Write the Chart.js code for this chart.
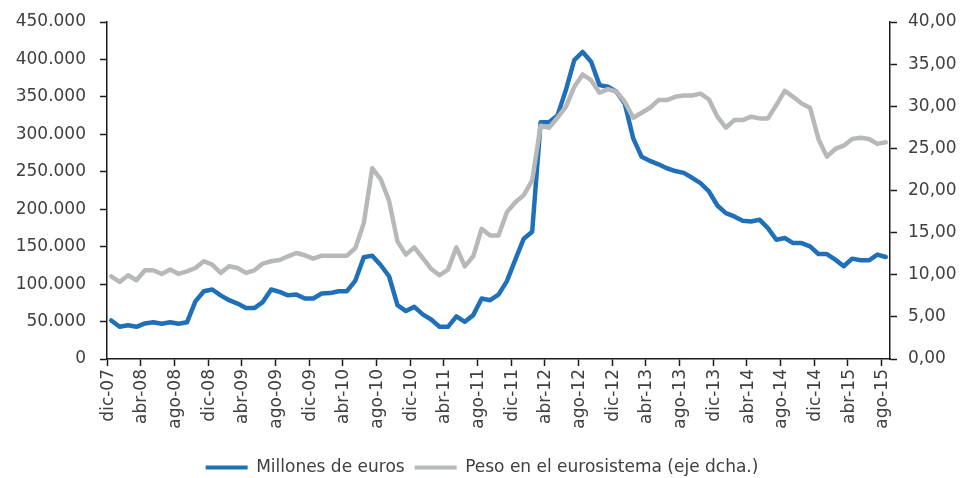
<!DOCTYPE html>
<html>
<head>
<meta charset="utf-8">
<script src="https://cdn.jsdelivr.net/npm/chart.js@4"></script>
<style>
  html, body { margin: 0; padding: 0; background: #ffffff; }
  #wrap { width: 964px; height: 478px; position: relative; }
</style>
</head>
<body>
<div id="wrap"><canvas id="c" width="964" height="478"></canvas></div>
<script>
const categories = [
  'dic-07',
  'ene-08','feb-08','mar-08','abr-08','may-08','jun-08','jul-08','ago-08','sep-08','oct-08','nov-08','dic-08',
  'ene-09','feb-09','mar-09','abr-09','may-09','jun-09','jul-09','ago-09','sep-09','oct-09','nov-09','dic-09',
  'ene-10','feb-10','mar-10','abr-10','may-10','jun-10','jul-10','ago-10','sep-10','oct-10','nov-10','dic-10',
  'ene-11','feb-11','mar-11','abr-11','may-11','jun-11','jul-11','ago-11','sep-11','oct-11','nov-11','dic-11',
  'ene-12','feb-12','mar-12','abr-12','may-12','jun-12','jul-12','ago-12','sep-12','oct-12','nov-12','dic-12',
  'ene-13','feb-13','mar-13','abr-13','may-13','jun-13','jul-13','ago-13','sep-13','oct-13','nov-13','dic-13',
  'ene-14','feb-14','mar-14','abr-14','may-14','jun-14','jul-14','ago-14','sep-14','oct-14','nov-14','dic-14',
  'ene-15','feb-15','mar-15','abr-15','may-15','jun-15','jul-15','ago-15'
];

// Millones de euros (left axis)
const millonesEuros = [
  51500, 43000, 45000, 43000, 47500, 49000, 47000, 49000, 47000, 49000,
  77000, 90500, 92800, 85000, 78500, 74000, 68000, 68000, 76000, 92800,
  89600, 85000, 86000, 80800, 80800, 87500, 88000, 90500, 90500, 104800,
  135800, 138000, 125500, 110500, 72000, 64000, 69600, 59500, 52800, 43000,
  43000, 57000, 49700, 58600, 80800, 78500, 86000, 104000, 132700, 160700,
  170000, 316000, 316000, 325000, 359000, 399000, 410000, 397000, 365700, 363500,
  356800, 341000, 294600, 270000, 264500, 260000, 254700, 251000, 248500, 242000,
  234700, 223700, 205000, 194800, 190400, 184600, 183700, 186000, 174800, 159300,
  161500, 154800, 154800, 150400, 140200, 140200, 132700, 123800, 134000, 131800,
  131800, 139400, 136200
];

// Peso en el eurosistema, % (right axis)
const pesoEurosistema = [
  9.82, 9.15, 9.94, 9.35, 10.53, 10.53, 10.10, 10.61, 10.10, 10.41,
  10.80, 11.60, 11.20, 10.22, 11.00, 10.80, 10.22, 10.53, 11.32, 11.60,
  11.75, 12.19, 12.58, 12.31, 11.91, 12.27, 12.27, 12.27, 12.27, 13.17,
  16.13, 22.64, 21.36, 18.80, 13.96, 12.39, 13.25, 11.99, 10.69, 9.94,
  10.61, 13.25, 11.00, 12.19, 15.46, 14.67, 14.67, 17.43, 18.60, 19.45,
  21.20, 27.69, 27.45, 28.64, 29.94, 32.31, 33.77, 33.09, 31.60, 32.03,
  31.72, 30.53, 28.64, 29.23, 29.82, 30.73, 30.73, 31.12, 31.27, 31.28,
  31.50, 30.80, 28.76, 27.45, 28.36, 28.36, 28.76, 28.56, 28.56, 30.14,
  31.83, 31.12, 30.33, 29.82, 26.12, 24.02, 24.93, 25.32, 26.12, 26.27,
  26.12, 25.53, 25.72
];

const leftTicks = { min: 0, max: 450000, step: 50000 };
const rightTicks = { min: 0, max: 40, step: 5 };
const seriesNames = ['Millones de euros', 'Peso en el eurosistema (eje dcha.)'];

const BLUE = '#1f70b9';
const GRAY = '#b6b8ba';
const TEXT = '#404040';
const AXIS = '#1a1a1a';
const FONT = "'DejaVu Sans', sans-serif";

function fmtThousands(v) {
  return String(Math.round(v)).replace(/\B(?=(\d{3})+(?!\d))/g, '.');
}

new Chart(document.getElementById('c'), {
  type: 'line',
  data: {
    labels: categories,
    datasets: [
      {
        label: seriesNames[0],
        data: millonesEuros,
        yAxisID: 'yL',
        borderColor: BLUE,
        backgroundColor: BLUE,
        borderWidth: 4.5,
        pointRadius: 0,
        tension: 0,
        borderJoinStyle: 'round',
        borderCapStyle: 'round',
        order: 1
      },
      {
        label: seriesNames[1],
        data: pesoEurosistema,
        yAxisID: 'yR',
        borderColor: GRAY,
        backgroundColor: GRAY,
        borderWidth: 4.5,
        pointRadius: 0,
        tension: 0,
        borderJoinStyle: 'round',
        borderCapStyle: 'round',
        order: 0
      }
    ]
  },
  options: {
    responsive: false,
    animation: false,
    devicePixelRatio: 1,
    layout: { padding: { top: 22, right: 0, bottom: -8, left: 0 } },
    plugins: {
      tooltip: { enabled: false },
      legend: {
        position: 'bottom',
        labels: {
          font: { family: FONT, size: 17 },
          color: TEXT,
          boxWidth: 42,
          boxHeight: 4,
          padding: 10,
          sort: (a, b) => a.datasetIndex - b.datasetIndex,
          generateLabels: (chart) => Chart.defaults.plugins.legend.labels.generateLabels(chart)
            .map(l => Object.assign(l, { lineWidth: 0 }))
        }
      }
    },
    scales: {
      x: {
        type: 'category',
        offset: true,
        grid: {
          offset: true,
          drawOnChartArea: false,
          drawTicks: true,
          tickLength: 7,
          tickWidth: 1.5,
          tickColor: (ctx) => (ctx.index % 4 === 0 ? AXIS : 'rgba(0,0,0,0)')
        },
        border: { display: true, color: AXIS, width: 1.5 },
        ticks: {
          autoSkip: false,
          maxRotation: 90,
          minRotation: 90,
          padding: 3,
          labelOffset: -3,
          color: TEXT,
          font: { family: FONT, size: 17 },
          callback: (v, i) => (i % 4 === 0 ? categories[i] : '')
        },
        afterFit: (s) => { s.height = 90; s.paddingLeft = 0; s.paddingRight = 0; }
      },
      yL: {
        type: 'linear',
        position: 'left',
        min: leftTicks.min,
        max: leftTicks.max,
        grid: { drawOnChartArea: false, tickLength: 7, tickWidth: 1.5, tickColor: AXIS },
        border: { display: true, color: AXIS, width: 1.5 },
        ticks: {
          stepSize: leftTicks.step,
          padding: 14,
          color: TEXT,
          font: { family: FONT, size: 17 },
          callback: (v) => fmtThousands(v)
        },
        afterFit: (s) => { s.width = 107; s.paddingTop = 0; s.paddingBottom = 0; }
      },
      yR: {
        type: 'linear',
        position: 'right',
        min: rightTicks.min,
        max: rightTicks.max,
        grid: { drawOnChartArea: false, tickLength: 7, tickWidth: 1.5, tickColor: AXIS },
        border: { display: true, color: AXIS, width: 1.5 },
        ticks: {
          stepSize: rightTicks.step,
          padding: 11,
          color: TEXT,
          font: { family: FONT, size: 17 },
          callback: (v) => v.toFixed(2).replace('.', ',')
        },
        afterFit: (s) => { s.width = 74; s.paddingTop = 0; s.paddingBottom = 0; }
      }
    }
  }
});
</script>
</body>
</html>
